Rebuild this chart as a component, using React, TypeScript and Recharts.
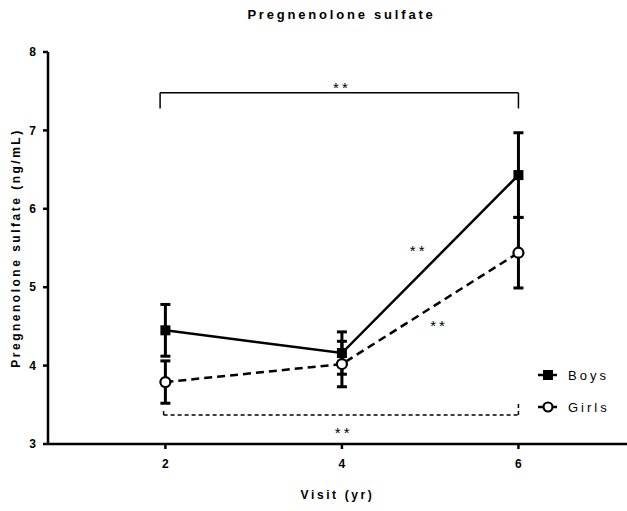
import {
  ComposedChart,
  Line,
  XAxis,
  YAxis,
  ErrorBar,
  ReferenceLine,
  ReferenceDot,
} from 'recharts';

const visits = [2, 4, 6];
const boysMean = [4.45, 4.16, 6.43];
const boysSem = [0.33, 0.27, 0.54];
const girlsMean = [3.79, 4.02, 5.44];
const girlsSem = [0.27, 0.29, 0.45];
const yTicks = [3, 4, 5, 6, 7, 8];

// significance brackets and stars (data coordinates)
const topBracket = [
  [1.94, 7.28],
  [1.94, 7.48],
  [6.0, 7.48],
  [6.0, 7.28],
];
const bottomBracket = [
  [1.98, 3.42],
  [1.98, 3.37],
  [6.0, 3.37],
  [6.0, 3.54],
];
const stars = [
  [4.0, 7.55],
  [4.87, 5.46],
  [5.1, 4.51],
  [4.02, 3.15],
];

const data = visits.map((v, i) => ({
  visit: v,
  boys: boysMean[i],
  boysErr: boysSem[i],
  girls: girlsMean[i],
  girlsErr: girlsSem[i],
}));

const font = '"Liberation Sans", Arial, sans-serif';

const Square = (props: any) => {
  const { cx, cy } = props;
  return <rect x={cx - 5} y={cy - 5} width={10} height={10} fill="#000" />;
};

const OpenCircle = (props: any) => {
  const { cx, cy } = props;
  return <circle cx={cx} cy={cy} r={5} fill="#fff" stroke="#000" strokeWidth={2.2} />;
};

const LegendBox = () => (
  <div
    style={{
      position: 'absolute',
      left: 537,
      top: 359,
      fontFamily: font,
      fontSize: 13,
      letterSpacing: 3,
      color: '#000',
    }}
  >
    <div style={{ display: 'flex', alignItems: 'center', height: 32 }}>
      <svg width={22} height={12}>
        <line x1={1} y1={6} x2={20} y2={6} stroke="#000" strokeWidth={2.5} />
        <rect x={6} y={1} width={10} height={10} fill="#000" />
      </svg>
      <span style={{ marginLeft: 9 }}>Boys</span>
    </div>
    <div style={{ display: 'flex', alignItems: 'center', height: 32 }}>
      <svg width={22} height={12}>
        <line x1={1} y1={6} x2={20} y2={6} stroke="#000" strokeWidth={2.5} />
        <circle cx={11} cy={6} r={4.5} fill="#fff" stroke="#000" strokeWidth={2.2} />
      </svg>
      <span style={{ marginLeft: 9 }}>Girls</span>
    </div>
  </div>
);

function segs(pts: number[][], dashed: boolean) {
  const out = [];
  for (let i = 0; i < pts.length - 1; i++) {
    out.push(
      <ReferenceLine
        key={`${dashed ? 'd' : 's'}${i}`}
        segment={[
          { x: pts[i][0], y: pts[i][1] },
          { x: pts[i + 1][0], y: pts[i + 1][1] },
        ]}
        stroke="#000"
        strokeWidth={1.5}
        strokeDasharray={dashed ? '4 3' : undefined}
        ifOverflow="visible"
      />
    );
  }
  return out;
}

export default function App() {
  return (
    <div style={{ position: 'absolute', left: 0, top: 0, width: 627, height: 511, background: '#fff' }}>
      <div
        style={{
          position: 'absolute',
          left: 0,
          width: 683,
          top: 7,
          textAlign: 'center',
          fontFamily: font,
          fontWeight: 'bold',
          fontSize: 13,
          letterSpacing: 2.8,
          color: '#000',
        }}
      >
        Pregnenolone sulfate
      </div>
      <div
        style={{
          position: 'absolute',
          left: 16 - 160,
          width: 320,
          top: 248 - 8,
          lineHeight: '16px',
          textAlign: 'center',
          transform: 'rotate(-90deg)',
          transformOrigin: '50% 50%',
          fontFamily: font,
          fontWeight: 'bold',
          fontSize: 12,
          letterSpacing: 2.5,
          color: '#000',
          whiteSpace: 'nowrap',
        }}
      >
        Pregnenolone sulfate (ng/mL)
      </div>
      <ComposedChart
        width={627}
        height={511}
        data={data}
        margin={{ top: 52, right: 0, left: 0, bottom: 0 }}
        style={{ fontFamily: font }}
      >
        <XAxis
          dataKey="visit"
          type="number"
          domain={[0.67, 7.23]}
          ticks={visits}
          allowDataOverflow
          height={67}
          tickSize={5}
          tickMargin={10}
          axisLine={{ stroke: '#000', strokeWidth: 2.5 }}
          tickLine={{ stroke: '#000', strokeWidth: 2.5 }}
          tick={{ fill: '#000', fontSize: 12, fontWeight: 'bold' }}
          label={{
            value: 'Visit (yr)',
            position: 'insideBottom',
            offset: 12,
            fill: '#000',
            fontSize: 12,
            fontWeight: 'bold',
            letterSpacing: 2.6,
          }}
        />
        <YAxis
          type="number"
          domain={[3, 8]}
          ticks={yTicks}
          width={48}
          tickSize={5}
          tickMargin={7}
          axisLine={{ stroke: '#000', strokeWidth: 2.5 }}
          tickLine={{ stroke: '#000', strokeWidth: 2.5 }}
          tick={{ fill: '#000', fontSize: 12, fontWeight: 'bold' }}
        />
        {segs(topBracket, false)}
        {segs(bottomBracket, true)}
        {stars.map(([x, y], i) => (
          <ReferenceDot
            key={`st${i}`}
            x={x}
            y={y}
            r={0}
            fill="none"
            stroke="none"
            ifOverflow="visible"
            label={{ value: '**', position: 'center', fill: '#000', fontSize: 15, letterSpacing: 3 }}
          />
        ))}
        <Line
          dataKey="girls"
          stroke="#000"
          strokeWidth={2.5}
          strokeDasharray="8 5"
          dot={<OpenCircle />}
          activeDot={false}
          isAnimationActive={false}
        >
          <ErrorBar dataKey="girlsErr" width={5} stroke="#000" strokeWidth={3} direction="y" />
        </Line>
        <Line
          dataKey="boys"
          stroke="#000"
          strokeWidth={2.5}
          dot={<Square />}
          activeDot={false}
          isAnimationActive={false}
        >
          <ErrorBar dataKey="boysErr" width={5} stroke="#000" strokeWidth={3} direction="y" />
        </Line>
      </ComposedChart>
      <LegendBox />
    </div>
  );
}
